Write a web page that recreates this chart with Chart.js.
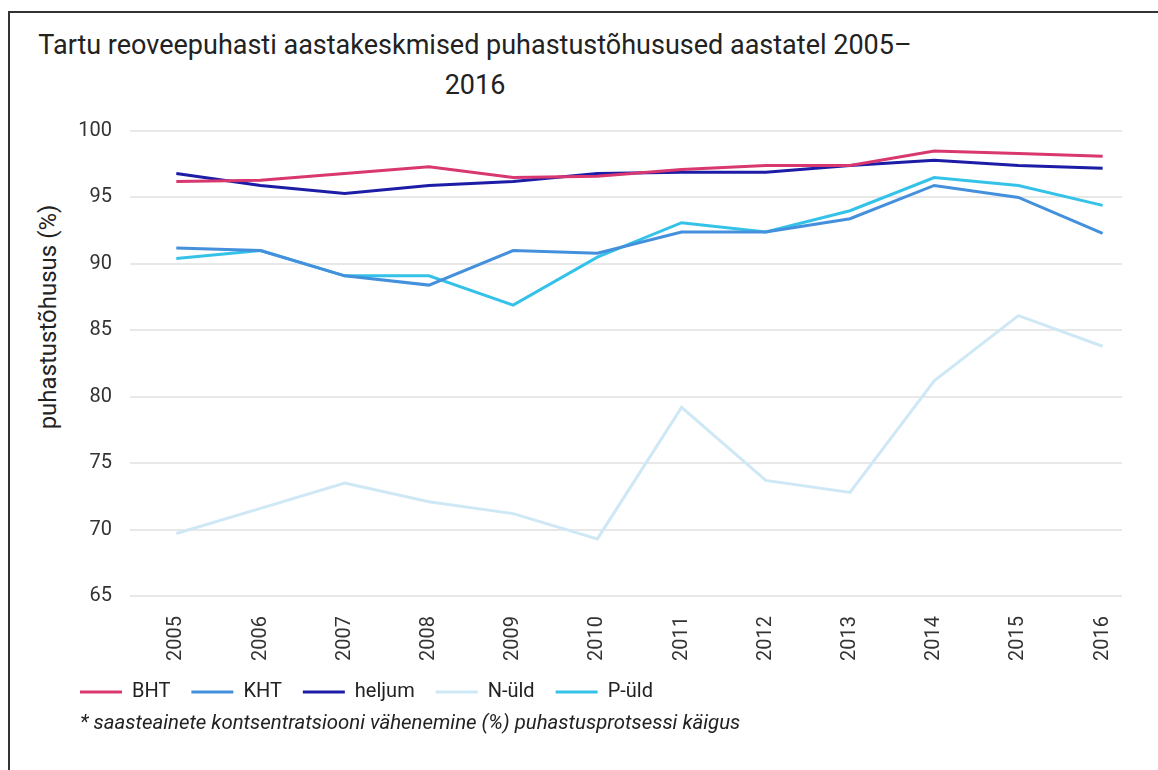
<!DOCTYPE html>
<html>
<head>
<meta charset="utf-8">
<script src="https://cdn.jsdelivr.net/npm/chart.js@4"></script>
<style>
  html, body { margin: 0; padding: 0; background: #fff; }
  body { width: 1158px; height: 770px; position: relative; overflow: hidden; font-family: Roboto, sans-serif; color: #222; }
  #frame { position: absolute; left: 8px; top: 11px; right: -4px; bottom: -4px; border-top: 2px solid #333; border-left: 2px solid #333; }
  #title { position: absolute; left: 0; top: 25px; width: 950px; text-align: center; font-size: 27px; line-height: 40px; }
  #ytitle { position: absolute; left: 48px; top: 317px; transform: translate(-50%, -50%) rotate(-90deg); white-space: nowrap; font-size: 24px; }
  #note { position: absolute; left: 80px; top: 709px; font-size: 20.4px; line-height: 26px; font-style: italic; }
  #wrap { position: absolute; left: 0; top: 100px; width: 1158px; height: 620px; }
</style>
</head>
<body>
<div id="frame"></div>
<div id="title">Tartu reoveepuhasti aastakeskmised puhastustõhusused aastatel 2005–<br>2016</div>
<div id="ytitle">puhastustõhusus (%)</div>
<div id="wrap"><canvas id="chart"></canvas></div>
<div id="note">* saasteainete kontsentratsiooni vähenemine (%) puhastusprotsessi käigus</div>
<script>
// data
const years = [2005, 2006, 2007, 2008, 2009, 2010, 2011, 2012, 2013, 2014, 2015, 2016];
const bht = [96.2, 96.3, 96.8, 97.3, 96.5, 96.6, 97.1, 97.4, 97.4, 98.5, 98.3, 98.1];
const kht = [91.2, 91.0, 89.1, 88.4, 91.0, 90.8, 92.4, 92.4, 93.4, 95.9, 95.0, 92.3];
const heljum = [96.8, 95.9, 95.3, 95.9, 96.2, 96.8, 96.9, 96.9, 97.4, 97.8, 97.4, 97.2];
const nUld = [69.7, 71.6, 73.5, 72.1, 71.2, 69.3, 79.2, 73.7, 72.8, 81.2, 86.1, 83.8];
const pUld = [90.4, 91.0, 89.1, 89.1, 86.9, 90.5, 93.1, 92.4, 94.0, 96.5, 95.9, 94.4];
const yTicks = [65, 70, 75, 80, 85, 90, 95, 100];

const seriesNames = ['BHT', 'KHT', 'heljum', 'N-üld', 'P-üld'];
const seriesValues = [bht, kht, heljum, nUld, pUld];
const seriesColors = ['#d8386f', '#4490dc', '#1c1ca6', '#cfe8f5', '#35c2e8'];

function toPoints(values) {
    return years.map((yr, i) => ({ x: yr, y: values[i] }));
}

const ctx = document.getElementById('chart').getContext('2d');
new Chart(ctx, {
    type: 'line',
    data: {
        datasets: seriesNames.map((name, i) => ({
            label: name,
            data: toPoints(seriesValues[i]),
            borderColor: seriesColors[i],
            backgroundColor: seriesColors[i],
            borderWidth: 3,
            pointRadius: 0,
            tension: 0,
            fill: false
        }))
    },
    options: {
        responsive: true,
        maintainAspectRatio: false,
        animation: false,
        layout: {
            padding: { left: 59, right: 36, top: 31, bottom: 8 }
        },
        plugins: {
            title: { display: false },
            tooltip: { enabled: false },
            legend: {
                position: 'bottom',
                align: 'start',
                labels: {
                    usePointStyle: true,
                    pointStyle: 'line',
                    pointStyleWidth: 42,
                    color: '#222',
                    font: { family: 'Roboto', size: 20 },
                    padding: 21
                }
            }
        },
        scales: {
            x: {
                type: 'linear',
                min: 2004.45,
                max: 2016.23,
                grid: { display: false },
                border: { display: false },
                afterBuildTicks: scale => {
                    scale.ticks = years.map(v => ({ value: v }));
                },
                afterFit: scale => { scale.height = 65; },
                ticks: {
                    autoSkip: false,
                    minRotation: 90,
                    maxRotation: 90,
                    padding: 12,
                    color: '#333',
                    font: { family: 'Roboto', size: 20 },
                    callback: v => String(v)
                }
            },
            y: {
                min: 65,
                max: 100,
                afterBuildTicks: scale => {
                    scale.ticks = yTicks.map(v => ({ value: v }));
                },
                afterFit: scale => { scale.width = 71; },
                grid: { color: '#e8e8e8', lineWidth: 2, drawTicks: false },
                border: { display: false },
                ticks: {
                    padding: 18,
                    color: '#333',
                    font: { family: 'Roboto', size: 20 }
                }
            }
        }
    }
});
</script>
</body>
</html>
